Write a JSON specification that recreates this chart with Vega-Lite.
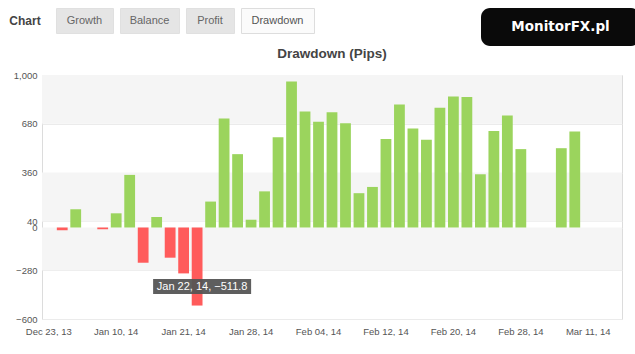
{
  "$schema": "https://vega.github.io/schema/vega-lite/v6.json",
  "background": "white",
  "padding": {"left": 0, "top": 7, "right": 0, "bottom": 0},
  "config": {"font": "Liberation Sans", "view": {"stroke": null}},
  "datasets": {
    "tabs": [{"tab": "Chart"}, {"tab": "Growth"}, {"tab": "Balance"}, {"tab": "Profit"}, {"tab": "Drawdown"}, {"tab": "MonitorFX.pl"}],
    "bands": [{"from": 1000, "to": 680}, {"from": 360, "to": 40}, {"from": 0, "to": -280}],
    "drawdown": [
      {"date": "Dec 23, 13", "pips": 0},
      {"date": "Dec 24, 13", "pips": -18},
      {"date": "Dec 27, 13", "pips": 120},
      {"date": "Jan 03, 14", "pips": 0},
      {"date": "Jan 08, 14", "pips": -12},
      {"date": "Jan 10, 14", "pips": 93},
      {"date": "Jan 13, 14", "pips": 345},
      {"date": "Jan 14, 14", "pips": -231},
      {"date": "Jan 15, 14", "pips": 69},
      {"date": "Jan 17, 14", "pips": -198},
      {"date": "Jan 21, 14", "pips": -301},
      {"date": "Jan 22, 14", "pips": -511.8},
      {"date": "Jan 23, 14", "pips": 170},
      {"date": "Jan 24, 14", "pips": 715},
      {"date": "Jan 27, 14", "pips": 481},
      {"date": "Jan 28, 14", "pips": 51},
      {"date": "Jan 29, 14", "pips": 237},
      {"date": "Jan 30, 14", "pips": 592},
      {"date": "Jan 31, 14", "pips": 958},
      {"date": "Feb 03, 14", "pips": 761},
      {"date": "Feb 04, 14", "pips": 693},
      {"date": "Feb 05, 14", "pips": 755},
      {"date": "Feb 06, 14", "pips": 684},
      {"date": "Feb 07, 14", "pips": 225},
      {"date": "Feb 10, 14", "pips": 266},
      {"date": "Feb 12, 14", "pips": 581},
      {"date": "Feb 13, 14", "pips": 807},
      {"date": "Feb 14, 14", "pips": 649},
      {"date": "Feb 17, 14", "pips": 575},
      {"date": "Feb 18, 14", "pips": 785},
      {"date": "Feb 20, 14", "pips": 859},
      {"date": "Feb 21, 14", "pips": 855},
      {"date": "Feb 24, 14", "pips": 349},
      {"date": "Feb 25, 14", "pips": 632},
      {"date": "Feb 26, 14", "pips": 734},
      {"date": "Feb 28, 14", "pips": 514},
      {"date": "Mar 03, 14", "pips": 0},
      {"date": "Mar 04, 14", "pips": 0},
      {"date": "Mar 05, 14", "pips": 520},
      {"date": "Mar 06, 14", "pips": 629},
      {"date": "Mar 11, 14", "pips": 0},
      {"date": "Mar 12, 14", "pips": 0},
      {"date": "Mar 13, 14", "pips": 0}
    ]
  },
  "spacing": 0,
  "vconcat": [
    {
      "spacing": 166,
      "hconcat": [
        {
          "spacing": 5,
          "hconcat": [
            {"width": 50, "height": 25, "view": {"stroke": null},
             "data": {"name": "tabs"}, "transform": [{"filter": "datum.tab === 'Chart'"}],
             "mark": {"type": "text", "fontSize": 12, "fontWeight": "bold", "color": "#444"},
             "encoding": {"text": {"field": "tab"}}},
            {"width": 57, "height": 25, "view": {"fill": "#e5e5e5", "stroke": "#e0e0e0"},
             "data": {"name": "tabs"}, "transform": [{"filter": "datum.tab === 'Growth'"}],
             "mark": {"type": "text", "fontSize": 11, "color": "#666"},
             "encoding": {"text": {"field": "tab"}}},
            {"width": 59, "height": 25, "view": {"fill": "#e5e5e5", "stroke": "#e0e0e0"},
             "data": {"name": "tabs"}, "transform": [{"filter": "datum.tab === 'Balance'"}],
             "mark": {"type": "text", "fontSize": 11, "color": "#666"},
             "encoding": {"text": {"field": "tab"}}},
            {"width": 48, "height": 25, "view": {"fill": "#e5e5e5", "stroke": "#e0e0e0"},
             "data": {"name": "tabs"}, "transform": [{"filter": "datum.tab === 'Profit'"}],
             "mark": {"type": "text", "fontSize": 11, "color": "#666"},
             "encoding": {"text": {"field": "tab"}}},
            {"width": 73, "height": 25, "view": {"fill": "#fbfbfb", "stroke": "#dddddd"},
             "data": {"name": "tabs"}, "transform": [{"filter": "datum.tab === 'Drawdown'"}],
             "mark": {"type": "text", "fontSize": 11, "color": "#555"},
             "encoding": {"text": {"field": "tab"}}}
          ]
        },
        {"width": 159, "height": 38, "view": {"fill": "#0a0a0a", "stroke": null, "cornerRadius": 9},
         "data": {"name": "tabs"}, "transform": [{"filter": "datum.tab === 'MonitorFX.pl'"}],
         "mark": {"type": "text", "fontSize": 13.5, "fontWeight": "bold", "color": "white", "font": "DejaVu Sans"},
         "encoding": {"text": {"field": "tab"}}}
      ]
    },
    {
      "spacing": 0,
      "hconcat": [
        {"width": 1, "height": 1, "view": {"stroke": null},
         "data": {"name": "tabs"}, "transform": [{"filter": "false"}],
         "mark": {"type": "text"},
         "encoding": {"text": {"field": "tab"}}},
        {
          "width": 580,
          "height": 244,
          "view": {"stroke": "#dcdcdc"},
          "title": {"text": "Drawdown (Pips)", "fontSize": 13.5, "fontWeight": "bold", "color": "#444", "anchor": "middle", "offset": 10},
          "layer": [
            {
              "data": {"name": "bands"},
              "mark": {"type": "rect", "color": "#f5f5f5"},
              "encoding": {
                "y": {"field": "from", "type": "quantitative",
                      "scale": {"domain": [-600, 1000], "nice": false, "zero": false},
                      "axis": {"title": null, "values": [1000, 680, 360, 40, 0, -280, -600], "format": ",.0f",
                               "labelFontSize": 9.5, "labelColor": "#555", "ticks": false, "domain": false,
                               "labelPadding": 5, "minExtent": 40, "maxExtent": 40, "grid": true, "gridColor": "#ebebeb",
                               "labelOverlap": false}},
                "y2": {"field": "to"}
              }
            },
            {
              "data": {"name": "drawdown"},
              "mark": {"type": "bar"},
              "encoding": {
                "x": {"field": "date", "type": "nominal", "sort": null,
                      "scale": {"paddingInner": 0.2, "paddingOuter": 0.1},
                      "axis": {"title": null, "labelAngle": 0, "ticks": false, "domain": false, "grid": false,
                               "labelFontSize": 9.5, "labelColor": "#555", "labelPadding": 7,
                               "values": ["Dec 23, 13", "Jan 10, 14", "Jan 21, 14", "Jan 28, 14", "Feb 04, 14", "Feb 12, 14", "Feb 20, 14", "Feb 28, 14", "Mar 11, 14"]}},
                "y": {"field": "pips", "type": "quantitative", "axis": {"title": null}},
                "color": {"condition": {"test": "datum.pips < 0", "value": "#ff5b5b"}, "value": "#9bd45d"}
              }
            },
            {
              "mark": {"type": "rule", "color": "#cccccc", "strokeWidth": 1},
              "encoding": {"y": {"datum": 0, "type": "quantitative"}}
            },
            {
              "data": {"name": "drawdown"},
              "transform": [{"filter": "datum.date === 'Jan 22, 14'"}],
              "mark": {"type": "point", "shape": "M-1,-0.153H1V0.153H-1Z", "size": 9604, "filled": true,
                       "color": "#555555", "opacity": 0.95, "xOffset": 5, "yOffset": -19},
              "encoding": {
                "x": {"field": "date", "type": "nominal", "sort": null},
                "y": {"field": "pips", "type": "quantitative"}
              }
            },
            {
              "data": {"name": "drawdown"},
              "transform": [{"filter": "datum.date === 'Jan 22, 14'"},
                            {"calculate": "datum.date + ', ' + format(datum.pips, '.1f')", "as": "tip"}],
              "mark": {"type": "text", "color": "white", "fontSize": 11, "xOffset": 5, "yOffset": -19},
              "encoding": {
                "x": {"field": "date", "type": "nominal", "sort": null},
                "y": {"field": "pips", "type": "quantitative"},
                "text": {"field": "tip"}
              }
            }
          ]
        }
      ]
    }
  ]
}
